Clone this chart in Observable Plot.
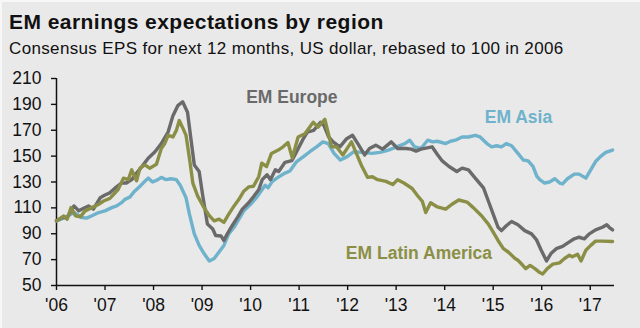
<!DOCTYPE html>
<html>
<head>
<meta charset="utf-8">
<script src="https://cdn.jsdelivr.net/npm/d3@7"></script>
<script src="https://cdn.jsdelivr.net/npm/@observablehq/plot@0.6"></script>
<style>
  html, body { margin: 0; padding: 0; background: #e9e9e9; }
  #wrap { position: relative; width: 638px; height: 326px; background: #e9e9e9;
          border-top: 2px solid #f7f7f7; border-left: 2px solid #f7f7f7; overflow: hidden;
          font-family: "Liberation Sans", Arial, Helvetica, sans-serif; color: #111; }
  #header { position: relative; height: 60px; }
  #title { position: absolute; left: 7px; top: 9px; font-size: 21px; line-height: 21px;
           font-weight: bold; letter-spacing: 0.45px; white-space: nowrap; }
  #subtitle { position: absolute; left: 7px; top: 38px; font-size: 17px; line-height: 17px;
              letter-spacing: 0.35px; white-space: nowrap; }
  #chart { position: absolute; left: -2px; top: 60px; }
  #chart svg g[aria-label$="tick"] path { stroke-width: 1.4px; }
</style>
</head>
<body>
<div id="wrap">
  <div id="header">
    <div id="title">EM earnings expectations by region</div>
    <div id="subtitle">Consensus EPS for next 12 months, US dollar, rebased to 100 in 2006</div>
  </div>
  <div id="chart"></div>
</div>
<script>
// ---- Data (decimal year, index value; Jan 2006 = 100) ----
const emEurope = [
  [2006.00,100],[2006.12,102.6],[2006.22,102.6],[2006.36,111.5],[2006.46,107.7],[2006.56,109.7],
  [2006.66,111.5],[2006.76,109],[2006.90,117.8],[2007.00,119.9],[2007.10,121.6],[2007.21,125.4],
  [2007.34,129.2],[2007.44,129.2],[2007.55,131.8],[2007.65,136.9],[2007.76,141.9],[2007.89,148.3],
  [2008.03,153.4],[2008.16,159.7],[2008.30,168.6],[2008.40,181.3],[2008.50,189],[2008.60,192],
  [2008.70,183.9],[2008.77,163.5],[2008.84,143.2],[2008.94,138.1],[2009.01,120.4],[2009.11,97.5],
  [2009.22,93.7],[2009.28,88.6],[2009.39,88.3],[2009.45,84.8],[2009.52,89.9],[2009.62,96.2],
  [2009.73,102.6],[2009.83,109],[2009.96,114],[2010.07,119.1],[2010.17,124.2],[2010.24,131.8],
  [2010.34,135.6],[2010.41,131.8],[2010.51,139.4],[2010.58,138.1],[2010.71,145.2],[2010.85,146.5],
  [2010.93,152.1],[2011.07,162.3],[2011.17,168.6],[2011.30,169.9],[2011.44,176.2],[2011.51,173.7],
  [2011.61,164.8],[2011.70,161],[2011.84,157.2],[2011.98,163.5],[2012.10,166.1],[2012.21,159.7],
  [2012.35,150.9],[2012.45,155.9],[2012.58,158.5],[2012.72,155.4],[2012.90,161],[2013.03,155.9],
  [2013.20,155.9],[2013.31,155.4],[2013.41,153.9],[2013.51,155.4],[2013.74,157.2],[2013.85,151.3],
  [2013.95,146.3],[2014.09,142],[2014.25,138.1],[2014.36,140.7],[2014.49,139.4],[2014.63,133],
  [2014.80,125.4],[2014.90,115.3],[2015.00,105.2],[2015.10,95],[2015.17,92.4],[2015.27,96.2],
  [2015.38,99.5],[2015.51,97],[2015.65,92.4],[2015.79,89.9],[2015.89,85.5],[2015.99,77.2],
  [2016.10,69],[2016.19,74.7],[2016.30,78.5],[2016.43,80.2],[2016.53,82.8],[2016.67,86.1],
  [2016.77,87.3],[2016.88,86.1],[2016.98,89.9],[2017.11,93],[2017.25,95],[2017.34,97],
  [2017.39,95],[2017.46,93]
];
const emAsia = [
  [2006.00,100],[2006.18,102.6],[2006.36,106.4],[2006.42,105.2],[2006.52,102.6],[2006.62,102.1],
  [2006.73,103.9],[2006.87,106.4],[2007.00,107.7],[2007.14,110.2],[2007.24,111.5],[2007.34,114],
  [2007.41,116.6],[2007.51,118.3],[2007.61,122.9],[2007.72,126.7],[2007.82,130.5],[2007.89,133],
  [2007.98,130],[2008.09,131.8],[2008.16,133.6],[2008.26,131.8],[2008.36,132.5],[2008.47,131.8],
  [2008.55,127.5],[2008.67,117.8],[2008.74,105.2],[2008.84,89.9],[2008.94,81],[2009.04,74.7],
  [2009.15,69],[2009.25,70.9],[2009.35,75.9],[2009.45,81],[2009.55,89.9],[2009.66,95],
  [2009.76,101.3],[2009.86,107.7],[2010.00,112.8],[2010.13,118.3],[2010.30,127.5],[2010.36,125.5],
  [2010.45,130.5],[2010.54,133],[2010.71,136.9],[2010.81,138.5],[2010.95,145.8],[2011.09,149.6],
  [2011.22,153.4],[2011.36,157.2],[2011.49,161],[2011.60,159.7],[2011.72,152.1],[2011.85,147],
  [2011.99,149.6],[2012.13,153.4],[2012.30,152.9],[2012.50,152.1],[2012.67,152.9],[2012.84,154.7],
  [2013.01,157.2],[2013.18,159.7],[2013.28,162.3],[2013.38,157.2],[2013.51,155.9],[2013.65,162.3],
  [2013.75,161],[2013.85,161.5],[2014.02,159.7],[2014.12,161.5],[2014.22,162.3],[2014.36,164.8],
  [2014.49,164.8],[2014.63,166.1],[2014.73,164.8],[2014.87,159.7],[2014.97,157.2],[2015.07,158],
  [2015.17,157.2],[2015.27,159.7],[2015.38,158],[2015.51,152.1],[2015.62,147],[2015.72,146.3],
  [2015.82,142],[2015.90,134.3],[2015.96,131.8],[2016.06,129.2],[2016.16,130],[2016.27,132.5],
  [2016.37,129.2],[2016.43,128.5],[2016.53,132.5],[2016.67,136.1],[2016.77,136.1],[2016.91,133],
  [2017.01,139.4],[2017.11,145.8],[2017.21,149.6],[2017.32,152.9],[2017.46,154.7]
];
const emLatinAmerica = [
  [2006.00,100],[2006.15,103.7],[2006.22,101.3],[2006.30,110.2],[2006.39,103.9],[2006.49,103],
  [2006.59,107.7],[2006.73,110.2],[2006.87,112.8],[2006.97,115.3],[2007.10,117.3],[2007.27,124.2],
  [2007.38,133],[2007.48,131.8],[2007.55,139.4],[2007.65,131],[2007.72,140.7],[2007.82,143.2],
  [2007.92,140.7],[2008.06,143.7],[2008.16,155.9],[2008.23,159.7],[2008.30,166.1],[2008.40,164.8],
  [2008.47,169.9],[2008.53,177.5],[2008.60,172],[2008.67,166],[2008.74,148.3],[2008.81,129.2],
  [2008.91,119.1],[2009.04,110.2],[2009.15,103.9],[2009.25,100],[2009.35,101.3],[2009.45,98.8],
  [2009.55,105.2],[2009.66,111.5],[2009.76,116.6],[2009.86,122.9],[2009.96,126.2],[2010.06,126.7],
  [2010.17,134.3],[2010.23,144.5],[2010.33,142],[2010.43,152.1],[2010.57,154.7],[2010.67,157.2],
  [2010.77,160.5],[2010.86,148.5],[2010.98,164.8],[2011.12,167.3],[2011.29,176.2],[2011.39,172.4],
  [2011.53,178.5],[2011.67,157.2],[2011.77,157.2],[2011.90,150.9],[2012.08,161],[2012.18,152.1],
  [2012.28,143.2],[2012.41,133.6],[2012.51,134.1],[2012.62,131.8],[2012.79,130.5],[2012.93,128],
  [2013.03,131.8],[2013.16,129.2],[2013.33,125],[2013.45,119],[2013.54,115],[2013.61,106.4],
  [2013.71,114],[2013.85,110.7],[2014.02,109],[2014.15,112.8],[2014.29,116.1],[2014.46,114.5],
  [2014.59,110.2],[2014.76,103.9],[2014.90,97.5],[2015.00,91.2],[2015.10,84.8],[2015.21,78.5],
  [2015.31,75.9],[2015.45,70.9],[2015.51,69.5],[2015.60,66],[2015.67,63],[2015.76,65.5],
  [2015.86,63],[2015.96,60],[2016.02,58.9],[2016.12,63.3],[2016.23,66.5],[2016.37,67.5],
  [2016.47,70.9],[2016.57,73.4],[2016.63,72.2],[2016.74,74.2],[2016.81,69],[2016.91,77.2],
  [2017.01,81],[2017.11,84.3],[2017.25,84.3],[2017.46,84]
];
const seriesNames = ["EM Europe", "EM Asia", "EM Latin America"];
const seriesColors = ["#6a6a6a", "#6eb2cb", "#8b8f46"];
// label anchor positions in data space (year, value)
const labelYears = [2010.85, 2015.52, 2013.47];
const labelValues = [195.3, 180, 74.9];

const xDomain = [2006, 2017.5];
const yDomain = [50, 210];
const xTicks = d3.range(2006, 2018);
const yTicks = d3.range(50, 211, 20);

const labels = seriesNames.map((name, i) => ({name, x: labelYears[i], y: labelValues[i], color: seriesColors[i]}));
const lineOpts = {x: d => d[0], y: d => d[1], strokeWidth: 3.4, strokeLinejoin: "round", strokeLinecap: "round"};

const chart = Plot.plot({
  width: 640,
  height: 266,
  marginTop: 16,
  marginBottom: 43,
  marginLeft: 56,
  marginRight: 26,
  style: {background: "transparent", fontFamily: "'Liberation Sans', Arial, Helvetica, sans-serif", fontSize: "17.5px", color: "#111", overflow: "visible"},
  x: {domain: xDomain, ticks: xTicks, tickFormat: d => "'" + String(d).slice(2), tickSize: 5, tickPadding: 8, label: null},
  y: {domain: yDomain, ticks: yTicks, tickSize: 5, tickPadding: 10, label: null},
  color: {type: "identity"},
  marks: [
    Plot.ruleX([xDomain[0]], {stroke: "#111", strokeWidth: 1.5}),
    Plot.ruleY([yDomain[0]], {stroke: "#111", strokeWidth: 1.5}),
    Plot.line(emAsia, {...lineOpts, stroke: seriesColors[1]}),
    Plot.line(emEurope, {...lineOpts, stroke: seriesColors[0]}),
    Plot.line(emLatinAmerica, {...lineOpts, stroke: seriesColors[2]}),
    Plot.text(labels, {x: "x", y: "y", text: "name", fill: "color", fontWeight: "bold", fontSize: 17.5, textAnchor: "middle"})
  ]
});
document.getElementById("chart").appendChild(chart);
</script>
</body>
</html>
